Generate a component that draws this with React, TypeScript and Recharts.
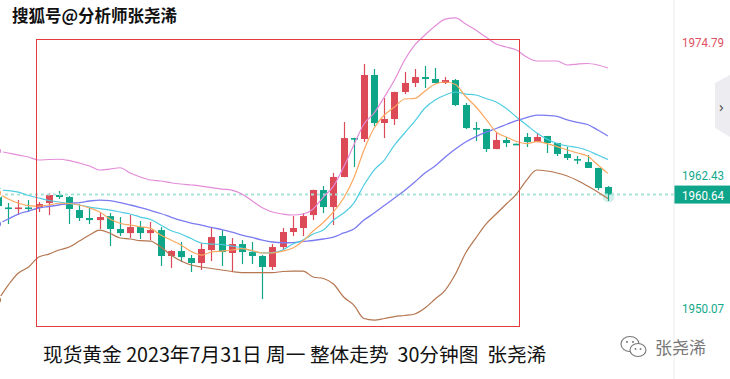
import React from 'react';
import { ComposedChart, Bar, Line, XAxis, YAxis, ReferenceLine } from 'recharts';

// 30-minute bars, oldest first (first one is cut off at the left edge)
const opens = [
  1961.15, 1959.44, 1959.34, 1959.44, 1959.39, 1959.85, 1960.60, 1960.41, 1959.20, 1958.46,
  1958.27, 1958.64, 1957.44, 1957.06, 1957.62, 1957.06, 1957.34, 1954.93, 1955.39, 1954.74,
  1954.28, 1955.48, 1956.79, 1955.21, 1956.04, 1955.30, 1954.93, 1953.91, 1955.76, 1957.16,
  1957.53, 1958.74, 1961.06, 1959.48, 1962.27, 1965.89, 1965.80, 1971.75, 1967.29, 1967.66,
  1970.17, 1971.01, 1971.56, 1971.38, 1971.01, 1971.28, 1968.96, 1966.82, 1966.73, 1964.87,
  1965.71, 1965.36, 1965.99, 1965.52, 1966.08, 1965.43, 1964.41, 1963.94, 1963.66, 1963.11,
  1961.34,
];
const closes = [
  1959.57, 1959.34, 1959.44, 1959.34, 1959.76, 1960.60, 1960.41, 1959.30, 1958.46, 1958.27,
  1958.55, 1957.44, 1957.06, 1957.62, 1957.06, 1957.34, 1954.93, 1955.39, 1954.83, 1954.28,
  1955.58, 1956.69, 1955.30, 1956.04, 1955.30, 1954.93, 1953.91, 1955.76, 1957.16, 1957.53,
  1958.64, 1961.06, 1959.48, 1962.27, 1965.89, 1965.75, 1971.75, 1967.29, 1967.66, 1970.17,
  1971.01, 1971.56, 1971.38, 1971.01, 1971.28, 1968.96, 1966.82, 1966.73, 1964.87, 1965.71,
  1965.43, 1965.29, 1965.52, 1965.99, 1965.43, 1964.41, 1964.04, 1963.85, 1963.11, 1961.25,
  1960.64,
];
const highs = [
  1961.43, 1959.85, 1960.13, 1960.13, 1959.95, 1960.78, 1960.97, 1960.50, 1959.76, 1959.39,
  1959.02, 1958.92, 1958.55, 1958.74, 1958.18, 1958.09, 1957.62, 1955.48, 1956.23, 1955.02,
  1956.14, 1957.53, 1957.34, 1956.60, 1956.41, 1956.23, 1955.02, 1956.04, 1957.53, 1958.64,
  1958.92, 1961.10, 1961.43, 1962.64, 1967.38, 1965.92, 1972.77, 1972.31, 1969.61, 1970.20,
  1972.03, 1972.31, 1972.59, 1972.40, 1971.56, 1971.38, 1969.15, 1967.38, 1966.75, 1966.36,
  1965.99, 1965.38, 1966.36, 1966.27, 1966.10, 1965.45, 1965.06, 1964.22, 1964.31, 1963.13,
  1961.43,
];
const lows = [
  1959.39, 1957.90, 1958.74, 1959.02, 1959.02, 1958.74, 1960.23, 1957.90, 1958.18, 1957.90,
  1957.44, 1955.86, 1956.79, 1956.60, 1956.51, 1956.41, 1954.00, 1953.81, 1954.37, 1953.44,
  1953.63, 1954.46, 1954.00, 1953.44, 1954.18, 1954.18, 1950.93, 1953.63, 1955.48, 1956.79,
  1956.79, 1958.27, 1958.92, 1957.81, 1962.25, 1963.20, 1965.52, 1967.01, 1965.89, 1967.10,
  1969.98, 1970.63, 1970.54, 1970.98, 1970.91, 1968.87, 1966.73, 1965.62, 1964.59, 1964.85,
  1965.06, 1965.24, 1965.06, 1965.50, 1964.50, 1964.22, 1963.85, 1963.48, 1963.10, 1961.06,
  1960.04,
];

// moving averages and bollinger bands
const ma5 = [
  1960.78, 1960.22, 1959.83, 1959.62, 1959.57, 1959.67, 1959.83, 1959.81, 1959.67, 1959.39,
  1959.02, 1958.37, 1957.97, 1957.81, 1957.65, 1957.50, 1956.88, 1956.41, 1955.95, 1955.35,
  1955.02, 1955.30, 1955.39, 1955.49, 1955.62, 1955.44, 1955.21, 1955.21, 1955.39, 1955.67,
  1956.32, 1957.25, 1958.04, 1959.02, 1960.32, 1962.18, 1964.78, 1966.82, 1968.03, 1968.78,
  1969.52, 1969.57, 1970.26, 1970.91, 1971.10, 1970.87, 1969.75, 1968.80, 1967.66, 1966.45,
  1965.99, 1965.57, 1965.38, 1965.55, 1965.38, 1965.10, 1964.78, 1964.50, 1964.22, 1963.39,
  1962.61,
];
const ma10 = [
  1961.06, 1961.01, 1960.87, 1960.55, 1960.32, 1960.09, 1959.95, 1959.81, 1959.67, 1959.48,
  1959.34, 1959.20, 1959.02, 1958.83, 1958.55, 1958.32, 1957.81, 1957.30, 1956.97, 1956.55,
  1956.14, 1956.04, 1956.00, 1955.86, 1955.67, 1955.39, 1955.21, 1955.25, 1955.49, 1956.04,
  1956.41, 1956.97, 1957.34, 1958.27, 1958.92, 1959.85, 1961.53, 1962.92, 1963.85, 1965.24,
  1966.36, 1967.47, 1968.68, 1969.43, 1969.89, 1970.17, 1969.98, 1969.89, 1969.57, 1969.24,
  1968.64, 1967.85, 1967.10, 1966.36, 1965.80, 1965.38, 1965.15, 1965.01, 1964.73, 1964.31,
  1963.90,
];
const bollMid = [
  1957.90, 1958.37, 1958.83, 1959.11, 1959.39, 1959.53, 1959.67, 1959.81, 1959.90, 1960.04,
  1960.13, 1960.07, 1959.90, 1959.67, 1959.42, 1959.16, 1958.88, 1958.55, 1958.23, 1957.99,
  1957.81, 1957.58, 1957.39, 1957.16, 1956.88, 1956.65, 1956.41, 1956.23, 1956.16, 1956.18,
  1956.28, 1956.37, 1956.51, 1956.69, 1957.07, 1957.44, 1958.27, 1958.92, 1959.62, 1960.32,
  1961.02, 1961.81, 1962.64, 1963.29, 1964.13, 1964.87, 1965.52, 1966.03, 1966.45, 1966.78,
  1967.15, 1967.52, 1967.80, 1968.03, 1967.99, 1967.91, 1967.57, 1967.34, 1967.15, 1966.64,
  1966.08,
];
const bollUp = [
  1964.69, 1964.50, 1964.31, 1964.13, 1963.85, 1963.90, 1963.92, 1963.80, 1963.57, 1963.29,
  1962.92, 1963.01, 1963.13, 1962.64, 1962.27, 1961.99, 1961.90, 1961.74, 1961.62, 1961.53,
  1961.43, 1961.29, 1961.15, 1961.06, 1960.69, 1960.04, 1959.42, 1959.02, 1958.83, 1958.74,
  1958.83, 1959.30, 1960.41, 1961.43, 1963.20, 1965.24, 1967.20, 1968.22, 1969.71, 1971.28,
  1973.14, 1974.54, 1975.47, 1976.30, 1976.95, 1977.05, 1976.49, 1975.93, 1975.28, 1974.63,
  1974.35, 1974.07, 1973.42, 1973.05, 1973.05, 1973.05, 1972.68, 1972.77, 1972.82, 1972.68,
  1972.40,
];
const bollDn = [
  1950.84, 1952.23, 1953.35, 1953.91, 1954.83, 1955.11, 1955.49, 1955.76, 1956.32, 1956.88,
  1957.34, 1957.04, 1956.60, 1956.51, 1956.35, 1956.32, 1955.76, 1955.02, 1954.46, 1954.09,
  1953.91, 1953.77, 1953.63, 1953.49, 1953.39, 1953.39, 1953.39, 1953.39, 1953.49, 1953.53,
  1953.53, 1952.98, 1952.84, 1952.33, 1951.12, 1950.37, 1949.12, 1948.98, 1949.12, 1949.30,
  1949.40, 1949.54, 1950.09, 1950.93, 1951.77, 1953.25, 1955.21, 1956.60, 1957.90, 1958.83,
  1959.76, 1960.69, 1961.99, 1962.92, 1962.83, 1962.64, 1962.36, 1961.94, 1961.43, 1960.88,
  1960.27,
];

const priceTicks = [1950.07, 1962.43, 1974.79];
const lastPrice = 1960.64;
const emptySlots = 6;

const RED = '#dc4a57';
const GREEN = '#0ea589';
const CJK = '"Noto Sans CJK SC", "Noto Sans", sans-serif';

const rows: any[] = opens.map((o, i) => ({
  i,
  open: o,
  close: closes[i],
  high: highs[i],
  low: lows[i],
  ma5: ma5[i],
  ma10: ma10[i],
  mid: bollMid[i],
  up: bollUp[i],
  dn: bollDn[i],
  last: i === opens.length - 1,
}));
for (let k = 0; k < emptySlots; k++) rows.push({ i: opens.length + k });

const Candle = (props: any) => {
  const { x, y, width, height, payload } = props;
  if (payload == null || payload.high == null) return null;
  const top = Math.min(y, y + height);
  const h = Math.abs(height);
  const range = payload.high - payload.low || 1;
  const toY = (v: number) => top + ((payload.high - v) / range) * h;
  const rising = payload.close >= payload.open;
  const color = rising ? RED : GREEN;
  const cx = Math.round(x + width / 2) + 0.5;
  const bTop = toY(Math.max(payload.open, payload.close));
  const bBot = toY(Math.min(payload.open, payload.close));
  const bw = 7;
  return (
    <g>
      {payload.last && <circle cx={cx} cy={bBot + 2} r={6} fill={GREEN} opacity={0.18} />}
      <line x1={cx} x2={cx} y1={top} y2={top + h} stroke={color} strokeWidth={1.2} />
      <rect x={cx - bw / 2} y={bTop} width={bw} height={Math.max(bBot - bTop, 1.6)} fill={color} />
    </g>
  );
};

const PriceTick = (props: any) => {
  const { y, payload } = props;
  const v = payload.value;
  return (
    <text
      x={689} y={y} dy={5} fontSize={13} textLength={42} lengthAdjust="spacingAndGlyphs"
      fontFamily="Roboto, sans-serif" fill={v > 1970 ? '#e04f5f' : '#14a88b'}
    >
      {v.toFixed(2)}
    </text>
  );
};

const LastTag = (props: any) => {
  const vb = props.viewBox || {};
  const x0 = (vb.x || 0) + (vb.width || 0);
  const cy = vb.y || 0;
  return (
    <g>
      <rect x={x0} y={cy - 9} width={60} height={18} fill="#0fa58a" />
      <text
        x={x0 + 8} y={cy} dy={5} fontSize={13} textLength={42} lengthAdjust="spacingAndGlyphs"
        fontFamily="Roboto, sans-serif" fill="#fff"
      >
        {lastPrice.toFixed(2)}
      </text>
    </g>
  );
};

const WeChatIcon = () => (
  <svg width={30} height={26} viewBox="0 0 30 26" style={{ position: 'absolute', left: 619, top: 334 }}>
    <ellipse cx={11} cy={10} rx={9} ry={7.5} fill="#fff" stroke="#777" strokeWidth={1.1} />
    <ellipse cx={19} cy={16} rx={8} ry={6.5} fill="#fff" stroke="#777" strokeWidth={1.1} />
    <circle cx={8} cy={8} r={1} fill="#777" />
    <circle cx={14} cy={8} r={1} fill="#777" />
    <circle cx={16.5} cy={15} r={0.9} fill="#777" />
    <circle cx={21.5} cy={15} r={0.9} fill="#777" />
  </svg>
);

export default function App() {
  return (
    <div style={{ position: 'absolute', left: 0, top: 0, width: 730, height: 379, background: '#fff', overflow: 'hidden' }}>
      <div style={{ position: 'absolute', left: -7, top: 0 }}>
        <ComposedChart width={737} height={379} data={rows} margin={{ top: 0, right: 0, bottom: 0, left: 0 }} barCategoryGap={0}>
          <XAxis dataKey="i" hide />
          <YAxis
            orientation="right"
            width={56}
            domain={[1943.5, 1978.72]}
            allowDataOverflow
            ticks={priceTicks}
            tick={<PriceTick />}
            tickLine={false}
            axisLine={{ stroke: '#ececec' }}
          />
          <ReferenceLine y={lastPrice} stroke="#a6e3d8" strokeWidth={2} strokeDasharray="3 3" label={<LastTag />} />
          <Bar dataKey={(d: any) => (d.high == null ? null : [d.low, d.high])} shape={<Candle />} isAnimationActive={false} />
          <Line type="monotone" dataKey="up" stroke="#e38cd9" strokeWidth={1.2} dot={false} isAnimationActive={false} />
          <Line type="monotone" dataKey="dn" stroke="#b57650" strokeWidth={1.2} dot={false} isAnimationActive={false} />
          <Line type="monotone" dataKey="mid" stroke="#7b7bf2" strokeWidth={1.3} dot={false} isAnimationActive={false} />
          <Line type="monotone" dataKey="ma10" stroke="#4fcde2" strokeWidth={1.2} dot={false} isAnimationActive={false} />
          <Line type="monotone" dataKey="ma5" stroke="#fba860" strokeWidth={1.2} dot={false} isAnimationActive={false} />
        </ComposedChart>
      </div>

      <div style={{ position: 'absolute', left: 36, top: 39, width: 484, height: 288, border: '1px solid #e53a3f', boxSizing: 'border-box' }} />

      <div
        style={{
          position: 'absolute', left: 715, top: 75, width: 15, height: 62, background: '#ececf1',
          clipPath: 'polygon(0 8px, 100% 0, 100% 100%, 0 calc(100% - 9px))',
        }}
      />
      <div style={{ position: 'absolute', left: 719, top: 96, fontSize: 15, color: '#555', fontFamily: '"Noto Sans", sans-serif' }}>›</div>

      <div
        style={{
          position: 'absolute', left: 12, top: 3, fontSize: 16.5, fontFamily: CJK, color: '#111', fontWeight: 700,
          textShadow: '1px 0 #fff, -1px 0 #fff, 0 1px #fff, 0 -1px #fff', whiteSpace: 'nowrap',
        }}
      >
        搜狐号@分析师张尧浠
      </div>

      <div style={{ position: 'absolute', left: 43, top: 339, fontSize: 19.7, fontFamily: CJK, color: '#111', whiteSpace: 'pre' }}>
        现货黄金 2023年7月31日 周一 整体走势  30分钟图  张尧浠
      </div>

      <WeChatIcon />
      <div style={{ position: 'absolute', left: 655, top: 334, fontSize: 17, fontFamily: CJK, color: '#777', whiteSpace: 'nowrap' }}>
        张尧浠
      </div>
    </div>
  );
}
